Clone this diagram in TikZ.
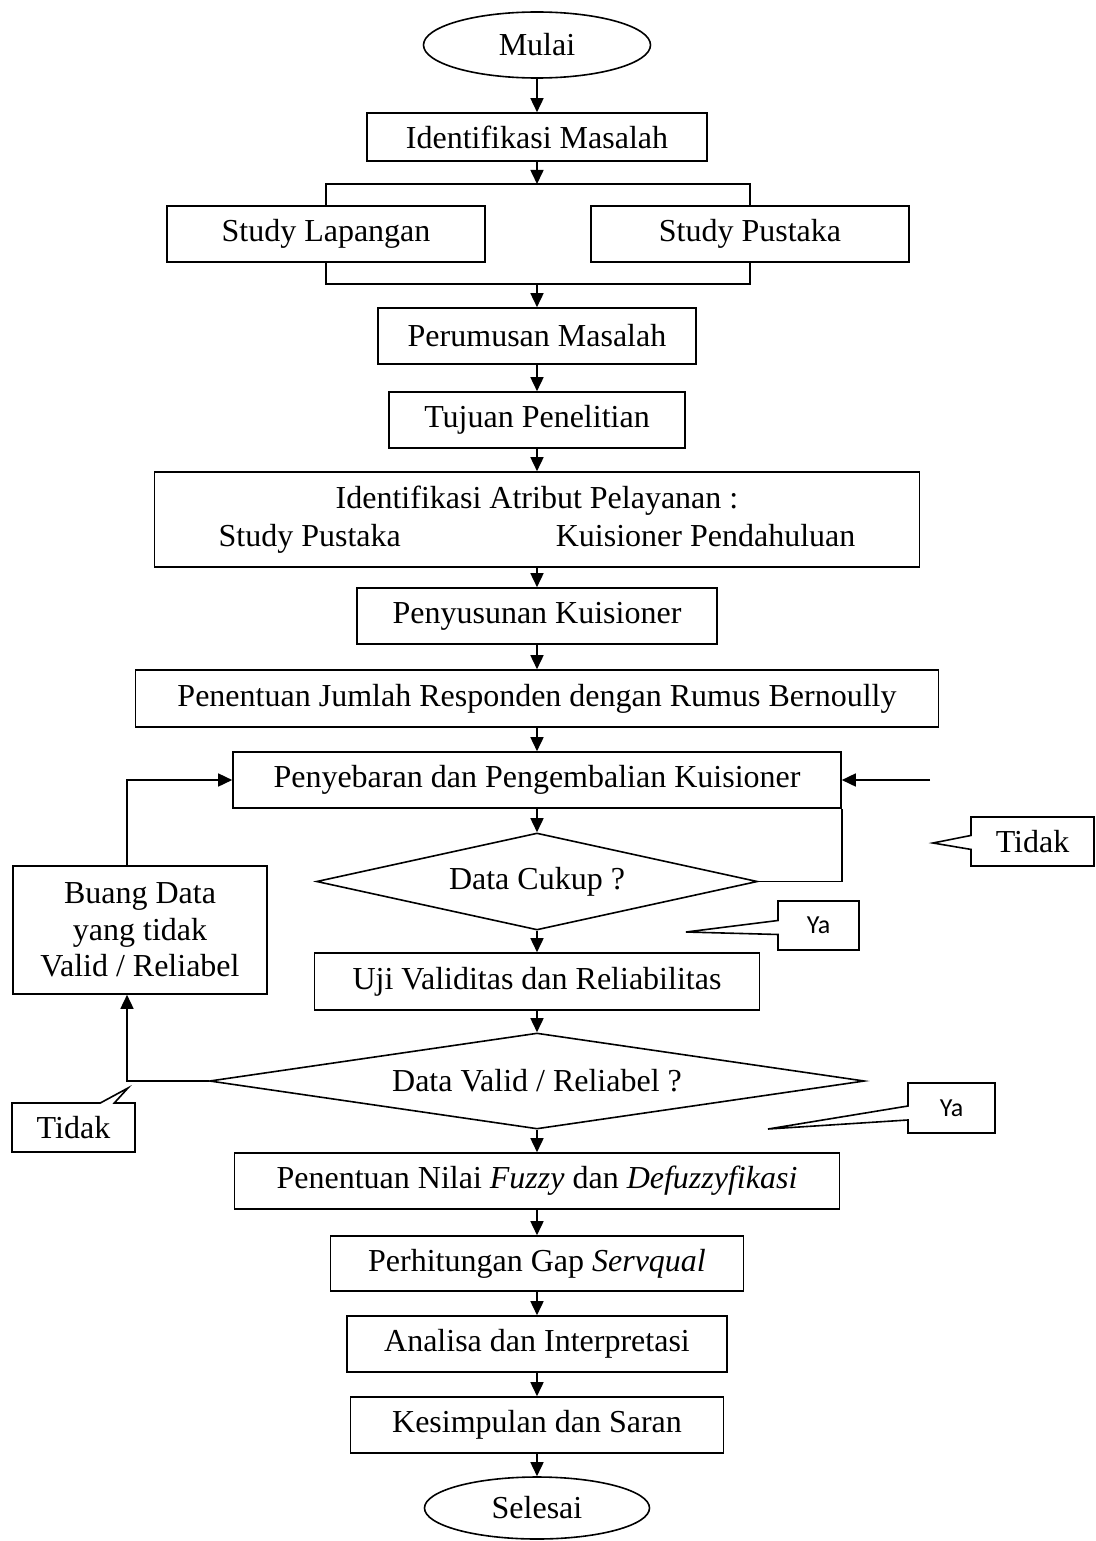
\documentclass[tikz,border=0pt]{standalone}
\usepackage{fontspec}
\setmainfont{Liberation Serif}
\newfontfamily\notefont{Carlito}
\usetikzlibrary{shapes.geometric,shapes.callouts,arrows.meta}

\begin{document}
\begin{tikzpicture}[x=1pt,y=-1pt,line width=1.6pt,
  font=\fontsize{32}{38}\selectfont,
  proc/.style={draw,rectangle,inner sep=0pt,minimum height=56pt},
  term/.style={draw,ellipse,inner sep=0pt,minimum width=227pt,minimum height=66pt},
  cond/.style={draw,diamond,aspect=6.5,inner sep=0pt,minimum height=97pt},
  note/.style={draw,rectangle callout,inner sep=0pt,minimum height=49pt,callout pointer width=14pt},
  yafont/.style={font=\notefont\fontsize{26}{30}\selectfont},
  arr/.style={-{Triangle[length=14pt,width=13pt]}}]
  \useasboundingbox (0,0) rectangle (1095,1541);

  % main column
  \node[term] (mulai) at (537,45) {Mulai};
  \node[proc,minimum width=340pt,minimum height=48pt] (identm) at (537,137) {Identifikasi Masalah};
  \node[proc,minimum width=318pt] (lap) at (326,234) {Study Lapangan};
  \node[proc,minimum width=318pt] (pus) at (750,234) {Study Pustaka};
  \node[proc,minimum width=318pt] (rumus) at (537,336) {Perumusan Masalah};
  \node[proc,minimum width=296pt] (tujuan) at (537,420) {Tujuan Penelitian};
  \node[proc,minimum width=765pt,minimum height=95pt,align=center] (atribut) at (537,519.5)
    {Identifikasi Atribut Pelayanan :\\Study Pustaka\hspace{155pt}Kuisioner Pendahuluan};
  \node[proc,minimum width=360pt] (susun) at (537,616) {Penyusunan Kuisioner};
  \node[proc,minimum width=803pt,minimum height=57pt] (jumlah) at (537,698.5)
    {Penentuan Jumlah Responden dengan Rumus Bernoully};
  \node[proc,minimum width=608pt] (sebar) at (537,780) {Penyebaran dan Pengembalian Kuisioner};
  \node[cond,minimum width=441pt] (cukup) at (537,881.5) {Data Cukup ?};
  \node[proc,minimum width=445pt,minimum height=57pt] (uji) at (537,981.5) {Uji Validitas dan Reliabilitas};
  \node[cond,minimum width=655pt,minimum height=96pt] (valid) at (537,1081) {Data Valid / Reliabel ?};
  \node[proc,minimum width=605pt] (nilai) at (537,1181) {Penentuan Nilai \textit{Fuzzy} dan \textit{Defuzzyfikasi}};
  \node[proc,minimum width=413pt,minimum height=55pt] (gap) at (537,1263.5) {Perhitungan Gap \textit{Servqual}};
  \node[proc,minimum width=380pt] (analisa) at (537,1344) {Analisa dan Interpretasi};
  \node[proc,minimum width=373pt] (simpul) at (537,1425) {Kesimpulan dan Saran};
  \node[term,minimum width=225pt,minimum height=62pt] (selesai) at (537,1508) {Selesai};

  % side box
  \node[proc,minimum width=254pt,minimum height=128pt,align=center,font=\fontsize{32}{36.5}\selectfont]
    (buang) at (140,930) {Buang Data\\yang tidak\\Valid / Reliabel};

  % callouts
  \node[note,minimum width=123pt,callout absolute pointer={(933,843)}] (tdkA) at (1032.5,841.5) {Tidak};
  \node[note,yafont,minimum width=81pt,callout absolute pointer={(686,932)}] (yaA) at (818.5,925.5) {Ya};
  \node[note,yafont,minimum width=87pt,minimum height=50pt,callout absolute pointer={(768,1129)}] (yaB) at (951.5,1108) {Ya};
  \node[note,minimum width=123pt,callout absolute pointer={(128,1088)}] (tdkB) at (73.5,1127.5) {Tidak};

  % connectors
  \coordinate (pisah) at (537,184);
  \coordinate (gabung) at (537,284);
  \draw[arr] (mulai) -- (identm);
  \draw[arr] (identm) -- (pisah);
  \draw (lap.north) |- (pisah) -| (pus.north);
  \draw (lap.south) |- (gabung) -| (pus.south);
  \draw[arr] (gabung) -- (rumus);
  \draw[arr] (rumus) -- (tujuan);
  \draw[arr] (tujuan) -- (atribut);
  \draw[arr] (atribut) -- (susun);
  \draw[arr] (susun) -- (jumlah);
  \draw[arr] (jumlah) -- (sebar);
  \draw[arr] (sebar) -- (cukup);
  \draw[arr] (cukup) -- (uji);
  \draw[arr] (uji) -- (valid);
  \draw[arr] (valid) -- (nilai);
  \draw[arr] (nilai) -- (gap);
  \draw[arr] (gap) -- (analisa);
  \draw[arr] (analisa) -- (simpul);
  \draw[arr] (simpul) -- (selesai);

  % loops back
  \coordinate (kiri) at (127,780);
  \coordinate (kanan) at (930,780);
  \draw[arr] (buang.north -| kiri) -- (kiri) -- (sebar.west);
  \draw[arr] (valid.west) -| (buang.south -| kiri);
  \draw[arr] (kanan) -- (sebar.east);
  \draw (cukup.east) -| (sebar.south east);
\end{tikzpicture}
\end{document}
